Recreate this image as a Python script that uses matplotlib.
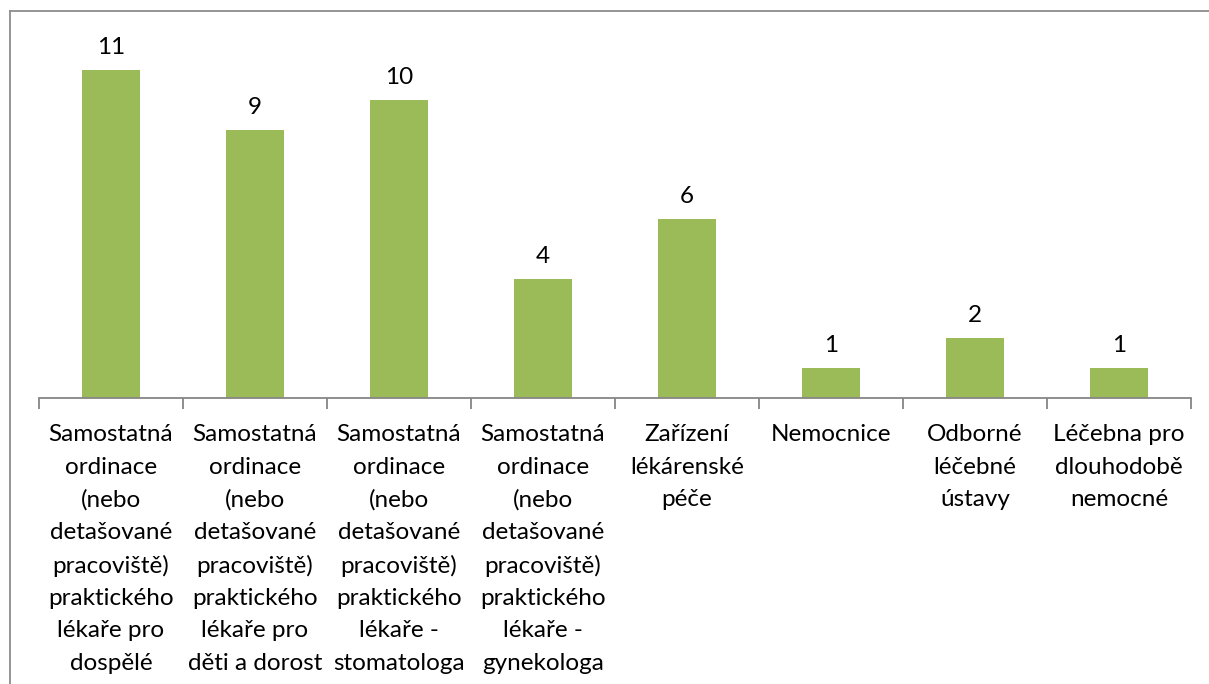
import matplotlib
matplotlib.use("Agg")
import matplotlib.pyplot as plt
from matplotlib.lines import Line2D

categories = [
    "Samostatná\nordinace\n(nebo\ndetašované\npracoviště)\npraktického\nlékaře pro\ndospělé",
    "Samostatná\nordinace\n(nebo\ndetašované\npracoviště)\npraktického\nlékaře pro\nděti a dorost",
    "Samostatná\nordinace\n(nebo\ndetašované\npracoviště)\npraktického\nlékaře -\nstomatologa",
    "Samostatná\nordinace\n(nebo\ndetašované\npracoviště)\npraktického\nlékaře -\ngynekologa",
    "Zařízení\nlékárenské\npéče",
    "Nemocnice",
    "Odborné\nléčebné\nústavy",
    "Léčebna pro\ndlouhodobě\nnemocné",
]
values = [11, 9, 10, 4, 6, 1, 2, 1]

FONT = "Lato"
plt.rcParams['font.family'] = [FONT, 'DejaVu Sans']

W, H = 1209, 684
fig = plt.figure(figsize=(W / 100, H / 100), dpi=100)
ax = fig.add_axes([39 / W, (H - 398) / H, 1152 / W, 358 / H])

x = list(range(len(values)))
bars = ax.bar(x, values, width=0.4, color="#9BBB59", edgecolor="none")
ax.set_xlim(-0.5, len(values) - 0.5)
ax.set_ylim(0, 12)

for xi, v in zip(x, values):
    ax.annotate(str(v), (xi, v), xytext=(0, 12), textcoords="offset pixels",
                ha="center", va="bottom", fontsize=17.5, color="black")

for s in ["top", "right", "left"]:
    ax.spines[s].set_visible(False)
ax.spines["bottom"].set_color("#868686")
ax.spines["bottom"].set_linewidth(1.3)
ax.set_yticks([])

ax.set_xticks(x)
ax.set_xticklabels(categories, fontsize=17.5, linespacing=1.66, color="black")
ax.tick_params(axis="x", which="major", length=0, pad=19)
ax.set_xticks([i - 0.5 for i in range(len(values) + 1)], minor=True)
ax.tick_params(axis="x", which="minor", length=8, width=1.3, color="#868686", direction="out")

# outer chart frame (partially visible)
fig.add_artist(Line2D([10 / W, 10 / W], [0, (H - 11) / H], color="#8C8C8C", lw=1.3, transform=fig.transFigure))
fig.add_artist(Line2D([10 / W, 1], [(H - 11) / H, (H - 11) / H], color="#8C8C8C", lw=1.3, transform=fig.transFigure))

fig.savefig("out.png", dpi=100)
